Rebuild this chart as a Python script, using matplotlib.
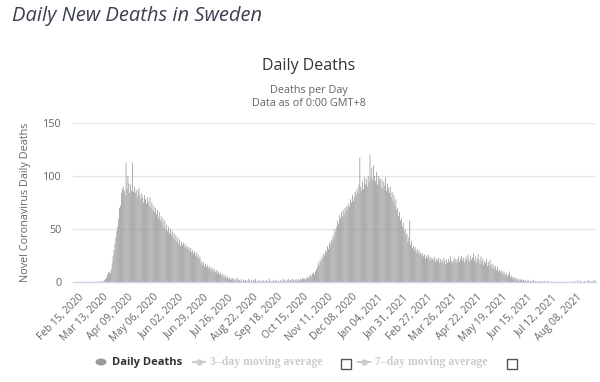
import matplotlib.pyplot as plt
import pandas as pd
from matplotlib.lines import Line2D
from matplotlib.patches import Rectangle, Circle

# Daily deaths, one row per week, starting Sat Feb 15, 2020
start_date = '2020-02-15'
daily_deaths = [
    0, 0, 0, 0, 0, 0, 0,
    0, 0, 0, 0, 0, 0, 0,
    0, 0, 0, 0, 0, 0, 0,
    0, 0, 0, 0, 1, 0, 1,
    0, 2, 3, 4, 7, 9, 10,
    8, 12, 18, 25, 30, 36, 42,
    48, 52, 60, 70, 72, 84, 88,
    90, 86, 82, 113, 88, 100, 93,
    84, 92, 86, 113, 85, 90, 84,
    87, 80, 86, 89, 82, 78, 84,
    80, 75, 82, 78, 74, 80, 76,
    72, 80, 70, 75, 68, 72, 66,
    70, 64, 68, 60, 66, 58, 62,
    56, 60, 52, 58, 50, 54, 48,
    52, 46, 50, 44, 48, 42, 46,
    40, 44, 38, 42, 36, 40, 34,
    38, 35, 37, 33, 36, 32, 34,
    31, 33, 29, 32, 28, 30, 27,
    29, 25, 28, 23, 26, 22, 24,
    18, 20, 16, 19, 15, 17, 14,
    16, 13, 15, 12, 14, 11, 13,
    10, 12, 9, 11, 8, 10, 7,
    9, 6, 8, 5, 7, 4, 6,
    4, 5, 3, 4, 2, 3, 4,
    2, 3, 1, 3, 2, 4, 1,
    2, 1, 3, 0, 2, 1, 2,
    1, 0, 2, 3, 1, 0, 2,
    0, 2, 1, 3, 1, 0, 1,
    2, 0, 1, 0, 2, 1, 0,
    1, 2, 0, 1, 3, 0, 1,
    0, 1, 2, 0, 1, 2, 0,
    1, 0, 2, 1, 0, 3, 1,
    2, 1, 0, 2, 3, 1, 2,
    1, 3, 2, 0, 2, 3, 1,
    2, 3, 1, 3, 2, 4, 3,
    3, 2, 4, 3, 5, 4, 6,
    7, 5, 8, 9, 7, 10, 12,
    14, 18, 16, 21, 19, 24, 22,
    27, 25, 30, 28, 34, 31, 37,
    35, 40, 38, 44, 42, 50, 47,
    52, 58, 55, 63, 60, 66, 62,
    68, 64, 70, 67, 72, 69, 74,
    71, 78, 75, 82, 76, 80, 85,
    82, 88, 84, 92, 117, 90, 86,
    95, 88, 99, 92, 97, 90, 100,
    94, 120, 98, 108, 96, 110, 100,
    95, 104, 92, 100, 96, 98, 90,
    97, 88, 95, 91, 99, 86, 93,
    89, 84, 90, 80, 85, 76, 82,
    72, 78, 68, 70, 62, 66, 58,
    60, 52, 56, 48, 50, 44, 46,
    38, 42, 58, 35, 38, 32, 34,
    30, 33, 28, 31, 27, 30, 26,
    28, 25, 27, 24, 26, 22, 25,
    23, 26, 21, 24, 20, 23, 22,
    21, 24, 19, 22, 20, 23, 18,
    22, 19, 21, 18, 23, 20, 17,
    21, 18, 22, 19, 24, 20, 18,
    20, 23, 19, 22, 18, 21, 24,
    19, 22, 25, 20, 23, 18, 21,
    24, 20, 26, 22, 19, 25, 21,
    23, 27, 20, 24, 18, 22, 26,
    21, 17, 24, 19, 22, 16, 20,
    18, 22, 15, 19, 16, 21, 14,
    17, 13, 16, 12, 15, 11, 14,
    10, 12, 9, 11, 8, 10, 7,
    9, 6, 8, 5, 7, 10, 4,
    6, 3, 5, 4, 2, 4, 3,
    2, 3, 1, 2, 3, 1, 2,
    1, 2, 0, 1, 2, 1, 0,
    1, 0, 1, 2, 0, 1, 0,
    1, 0, 0, 1, 0, 1, 0,
    0, 1, 0, 0, 1, 0, 0,
    0, 0, 0, 0, 0, 0, 0,
    0, 0, 0, 0, 0, 0, 0,
    0, 0, 0, 0, 0, 0, 0,
    0, 0, 0, 0, 0, 1, 0,
    0, 0, 2, 0, 0, 1, 0,
    0, 0, 1, 0, 0, 0, 2,
    0, 1, 0, 0, 1, 0, 2,
]

tick_labels = [
    'Feb 15, 2020', 'Mar 13, 2020', 'Apr 09, 2020', 'May 06, 2020',
    'Jun 02, 2020', 'Jun 29, 2020', 'Jul 26, 2020', 'Aug 22, 2020',
    'Sep 18, 2020', 'Oct 15, 2020', 'Nov 11, 2020', 'Dec 08, 2020',
    'Jan 04, 2021', 'Jan 31, 2021', 'Feb 27, 2021', 'Mar 26, 2021',
    'Apr 22, 2021', 'May 19, 2021', 'Jun 15, 2021', 'Jul 12, 2021',
    'Aug 08, 2021',
]
y_ticks = [0, 50, 100, 150]

dates = pd.date_range(start_date, periods=len(daily_deaths), freq='D')
tick_dates = pd.to_datetime(tick_labels, format='%b %d, %Y')

plt.rcParams['font.family'] = ['Open Sans', 'DejaVu Sans']

W, H = 600, 382
fig = plt.figure(figsize=(W / 100, H / 100), dpi=100)
fig.patch.set_facecolor('white')


def fx(x):
    return x / W


def fy(y):
    return 1 - y / H


# plot area in pixels: left 73, right 596, top 123, bottom 282
ax = fig.add_axes([fx(73), fy(282), fx(596) - fx(73), fy(123) - fy(282)])

ax.bar(dates, daily_deaths, width=0.85, color='#9a9a9a', linewidth=0, snap=False)

ax.set_xlim(dates[0] - pd.Timedelta(days=5.4), dates[0] + pd.Timedelta(days=560.6))
ax.set_ylim(0, 150)

ax.set_xticks(tick_dates)
ax.set_xticklabels(tick_labels, rotation=45, ha='right', rotation_mode='anchor',
                   fontsize=7.4, color='#666666')
ax.set_yticks(y_ticks)
ax.set_yticklabels([str(v) for v in y_ticks], fontsize=7.8, color='#666666')
ax.tick_params(axis='x', length=0, pad=7)
ax.tick_params(axis='y', length=0, pad=8)

ax.yaxis.grid(True, color='#e6e6e6', linewidth=1)
ax.set_axisbelow(True)
for side in ['top', 'right', 'left']:
    ax.spines[side].set_visible(False)
ax.spines['bottom'].set_color('#ccd6eb')
ax.spines['bottom'].set_linewidth(1)

ax.set_ylabel('Novel Coronavirus Daily Deaths', fontsize=7.8, color='#666666', labelpad=9)

# Titles
fig.text(fx(12), fy(16), 'Daily New Deaths in Sweden', fontsize=14.5, style='italic',
         color='#3b3f4f', ha='left', va='center')
fig.text(fx(309), fy(66), 'Daily Deaths', fontsize=11.5, color='#333333', ha='center', va='center')
fig.text(fx(309), fy(91), 'Deaths per Day', fontsize=7.8, color='#666666', ha='center', va='center')
fig.text(fx(309), fy(103), 'Data as of 0:00 GMT+8', fontsize=7.8, color='#666666', ha='center', va='center')

# Legend
ly = fy(362)
fig.add_artist(Circle((fx(101), ly), 5.5 / W, transform=fig.transFigure,
                      facecolor='#9a9a9a', edgecolor='none'))
fig.text(fx(112), ly, 'Daily Deaths', fontsize=8, fontweight='bold', color='#333333',
         ha='left', va='center')

for x0, label, box_x in [(193, '3\u2013day moving average', 346),
                         (358, '7\u2013day moving average', 512)]:
    fig.add_artist(Line2D([fx(x0), fx(x0 + 12)], [ly, ly], transform=fig.transFigure,
                          color='#cccccc', linewidth=1.5))
    fig.add_artist(Line2D([fx(x0 + 6)], [ly], transform=fig.transFigure,
                          color='#cccccc', marker='o', markersize=4.5, markeredgewidth=0))
    fig.text(fx(x0 + 17), ly, label, fontsize=8.5, fontweight='bold', color='#cccccc',
             family='Liberation Serif', ha='left', va='center')
    fig.add_artist(Rectangle((fx(box_x - 5), fy(369)), 10 / W, 10 / H, transform=fig.transFigure,
                             facecolor='white', edgecolor='#555555', linewidth=1))

fig.savefig('out.png', dpi=100)
